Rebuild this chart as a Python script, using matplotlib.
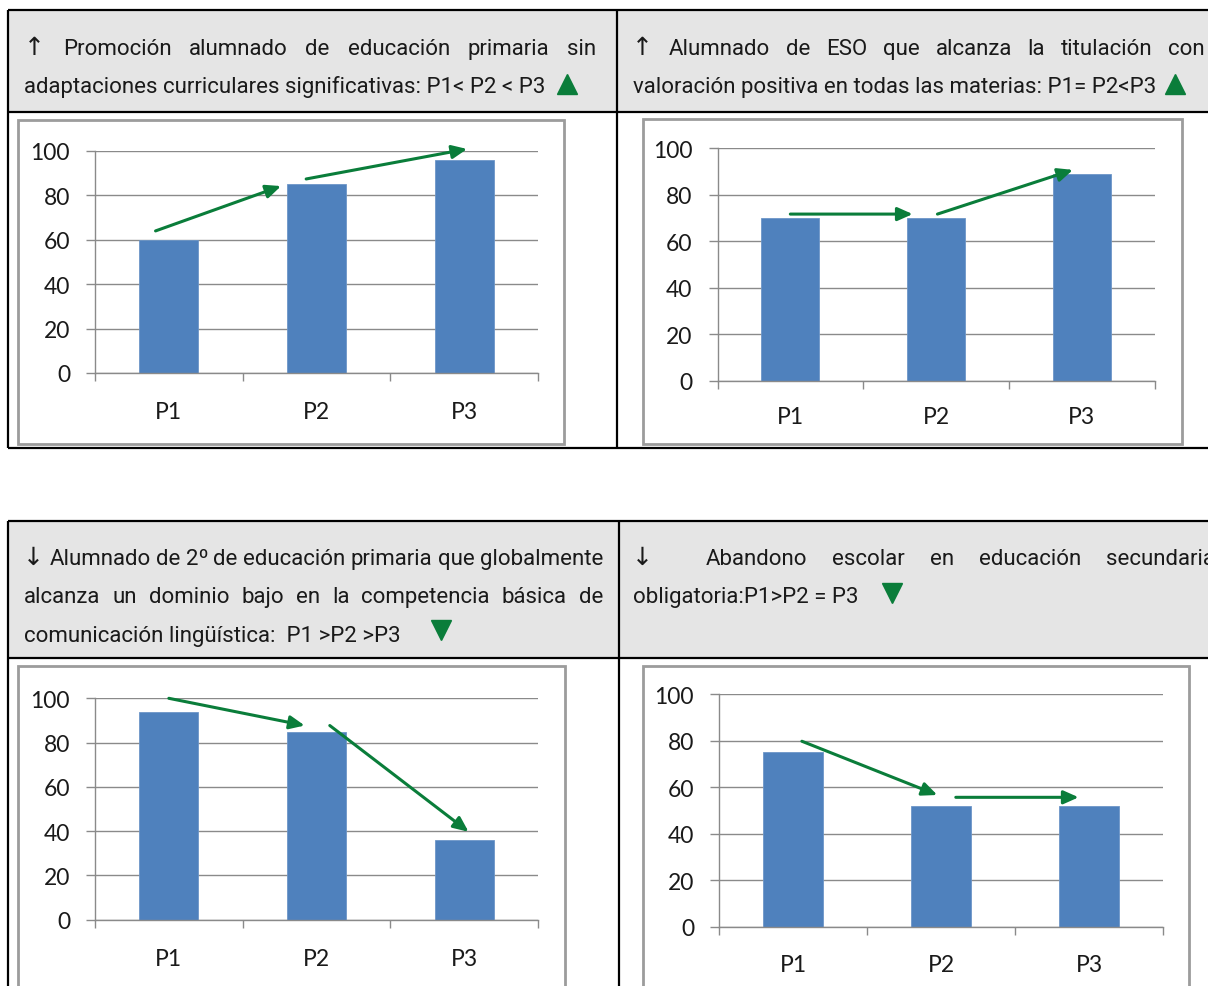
import matplotlib
matplotlib.use('Agg')
import matplotlib.pyplot as plt
from matplotlib.patches import Rectangle
from matplotlib.lines import Line2D
from matplotlib import font_manager

W, H = 1208, 987

periods = ['P1', 'P2', 'P3']
promocion_primaria = [60, 85, 96]
titulacion_eso = [70, 70, 89]
dominio_bajo_ccl = [94, 85, 36]
abandono_eso = [75, 52, 52]

# trend arrows drawn over each chart, (start, end) in data units
flechas_promocion = [((-0.09, 64), (0.76, 84.2)), ((0.93, 87.4), (2.02, 100.9))]
flechas_titulacion = [((0.0, 71.6), (0.84, 71.6)), ((1.01, 71.6), (1.94, 90.6))]
flechas_dominio = [((0.0, 100), (0.92, 87.7)), ((1.09, 87.7), (2.03, 39.7))]
flechas_abandono = [((0.06, 79.7), (0.975, 56.6)), ((1.10, 55.6), (1.93, 55.6))]

names = {f.name for f in font_manager.fontManager.ttflist}
narrow = 'Liberation Sans Narrow' if 'Liberation Sans Narrow' in names else 'Roboto'
HEAD = [narrow, 'DejaVu Sans']
FS = 16 if narrow == 'Roboto' else 17.5
INK = '#1a1a1a'
GREEN = '#0a7d3a'
BLUE = '#4f81bd'
GRID = '#8a8a8a'

fig = plt.figure(figsize=(W / 100, H / 100), dpi=100)
r = fig.canvas.get_renderer()


def fx(x):
    return x / W


def fy(y):
    return 1 - y / H


def seg(x0, y0, x1, y1, color='black', lw=1.6):
    fig.add_artist(Line2D([fx(x0), fx(x1)], [fy(y0), fy(y1)], color=color, lw=lw,
                          transform=fig.transFigure, solid_capstyle='butt', zorder=3))


def rect(x0, y0, x1, y1, **kw):
    fig.add_artist(Rectangle((fx(x0), fy(y1)), fx(x1) - fx(x0), fy(y0) - fy(y1),
                             transform=fig.transFigure, **kw))


def word(w, x, y):
    # the arrow signs are set a bit larger, as in the original document
    if w in ('↑', '↓'):
        return fig.text(fx(x), fy(y), w, family='DejaVu Sans', fontsize=FS + 2,
                        color=INK, va='baseline')
    return fig.text(fx(x), fy(y), w, family=HEAD, fontsize=FS, color=INK, va='baseline')


def plain(text, x, y):
    word(text, x, y)


def justified(text, x0, x1, y):
    words = text.split()
    ts = [word(w, 0, 0) for w in words]
    widths = [t.get_window_extent(r).width for t in ts]
    gap = (x1 - x0 - sum(widths)) / (len(words) - 1)
    x = x0
    for t, w in zip(ts, widths):
        t.set_position((fx(x), fy(y)))
        x += w + gap


def mark(x, y, up):
    fig.add_artist(Line2D([fx(x)], [fy(y)], marker='^' if up else 'v', ms=14,
                          color=GREEN, lw=0, transform=fig.transFigure, zorder=4))


# header cells
rect(8, 11, 1212, 113, facecolor='#e5e5e5', edgecolor='none', zorder=-2)
rect(8, 522, 1212, 659, facecolor='#e5e5e5', edgecolor='none', zorder=-2)

# table rules
for y in (11, 113, 449):
    seg(8, y, 1212, y)
for x in (8, 617):
    seg(x, 11, x, 449)
for y in (522, 659):
    seg(8, y, 1212, y)
for x in (8, 619):
    seg(x, 522, x, 990)

# header texts
justified('↑ Promoción alumnado de educación primaria sin', 24, 596, 55)
plain('adaptaciones curriculares significativas: P1< P2 < P3', 24, 93)
mark(567, 85, True)

justified('↑ Alumnado de ESO que alcanza la titulación con', 632, 1205, 55)
plain('valoración positiva en todas las materias: P1= P2<P3', 633, 93)
mark(1175, 85, True)

justified('↓ Alumnado de 2º de educación primaria que globalmente', 23, 603, 565)
justified('alcanza un dominio bajo en la competencia básica de', 24, 603, 603)
plain('comunicación lingüística:  P1 >P2 >P3', 24, 642)
mark(441, 631, False)

plain('↓', 632, 565)
justified('Abandono escolar en educación secundaria', 706, 1215, 565)
plain('obligatoria:P1>P2 = P3', 633, 603)
mark(892, 594, False)

# chart frames
for x0, y0, x1, y1 in [(18, 121, 564, 445), (643, 120, 1182, 445),
                       (18, 667, 565, 1000), (643, 667, 1189, 1000)]:
    rect(x0, y0, x1, y1, facecolor='white', edgecolor='#9c9c9c', lw=2, zorder=-1)


def chart(box, values, arrows, xpad):
    left, right, top, bottom = box
    ax = fig.add_axes([fx(left), fy(bottom), fx(right) - fx(left), fy(top) - fy(bottom)])
    ax.set_facecolor('none')
    x = range(len(values))
    ax.bar(x, values, width=0.4, color=BLUE, edgecolor='#6d96c8', lw=0.6, zorder=2)
    ax.set_xlim(-0.5, 2.5)
    ax.set_ylim(0, 100)
    ax.set_yticks(range(0, 101, 20))
    ax.yaxis.grid(True, color=GRID, lw=1.0)
    ax.set_axisbelow(True)
    for s in ('top', 'right'):
        ax.spines[s].set_visible(False)
    for s in ('left', 'bottom'):
        ax.spines[s].set_color(GRID)
        ax.spines[s].set_linewidth(1.0)
    ax.set_xticks(list(x))
    ax.set_xticklabels(periods)
    ax.set_xticks([-0.5, 0.5, 1.5, 2.5], minor=True)
    ax.tick_params(axis='x', which='major', length=0, pad=xpad, labelsize=16.5, labelcolor='#1a1a1a')
    ax.tick_params(axis='x', which='minor', length=6, color=GRID, width=1.0)
    ax.tick_params(axis='y', length=6.5, color=GRID, width=1.0, pad=11.5,
                   labelsize=16.5, labelcolor='#1a1a1a')
    for lab in ax.get_xticklabels() + ax.get_yticklabels():
        lab.set_family('Lato')
    for (x0, y0), (x1, y1) in arrows:
        ax.annotate('', xy=(x1, y1), xytext=(x0, y0), annotation_clip=False,
                    arrowprops=dict(arrowstyle='-|>,head_length=0.9,head_width=0.4',
                                    color=GREEN, lw=2.2, shrinkA=0, shrinkB=0), zorder=4)


chart((95, 538, 152, 374), promocion_primaria, flechas_promocion, 20)
chart((717.5, 1154.5, 149, 381.7), titulacion_eso, flechas_titulacion, 18.5)
chart((95, 538, 699.3, 920.7), dominio_bajo_ccl, flechas_dominio, 20.5)
chart((719, 1163, 695, 927.7), abandono_eso, flechas_abandono, 19.5)

fig.savefig('out.png', dpi=100)
